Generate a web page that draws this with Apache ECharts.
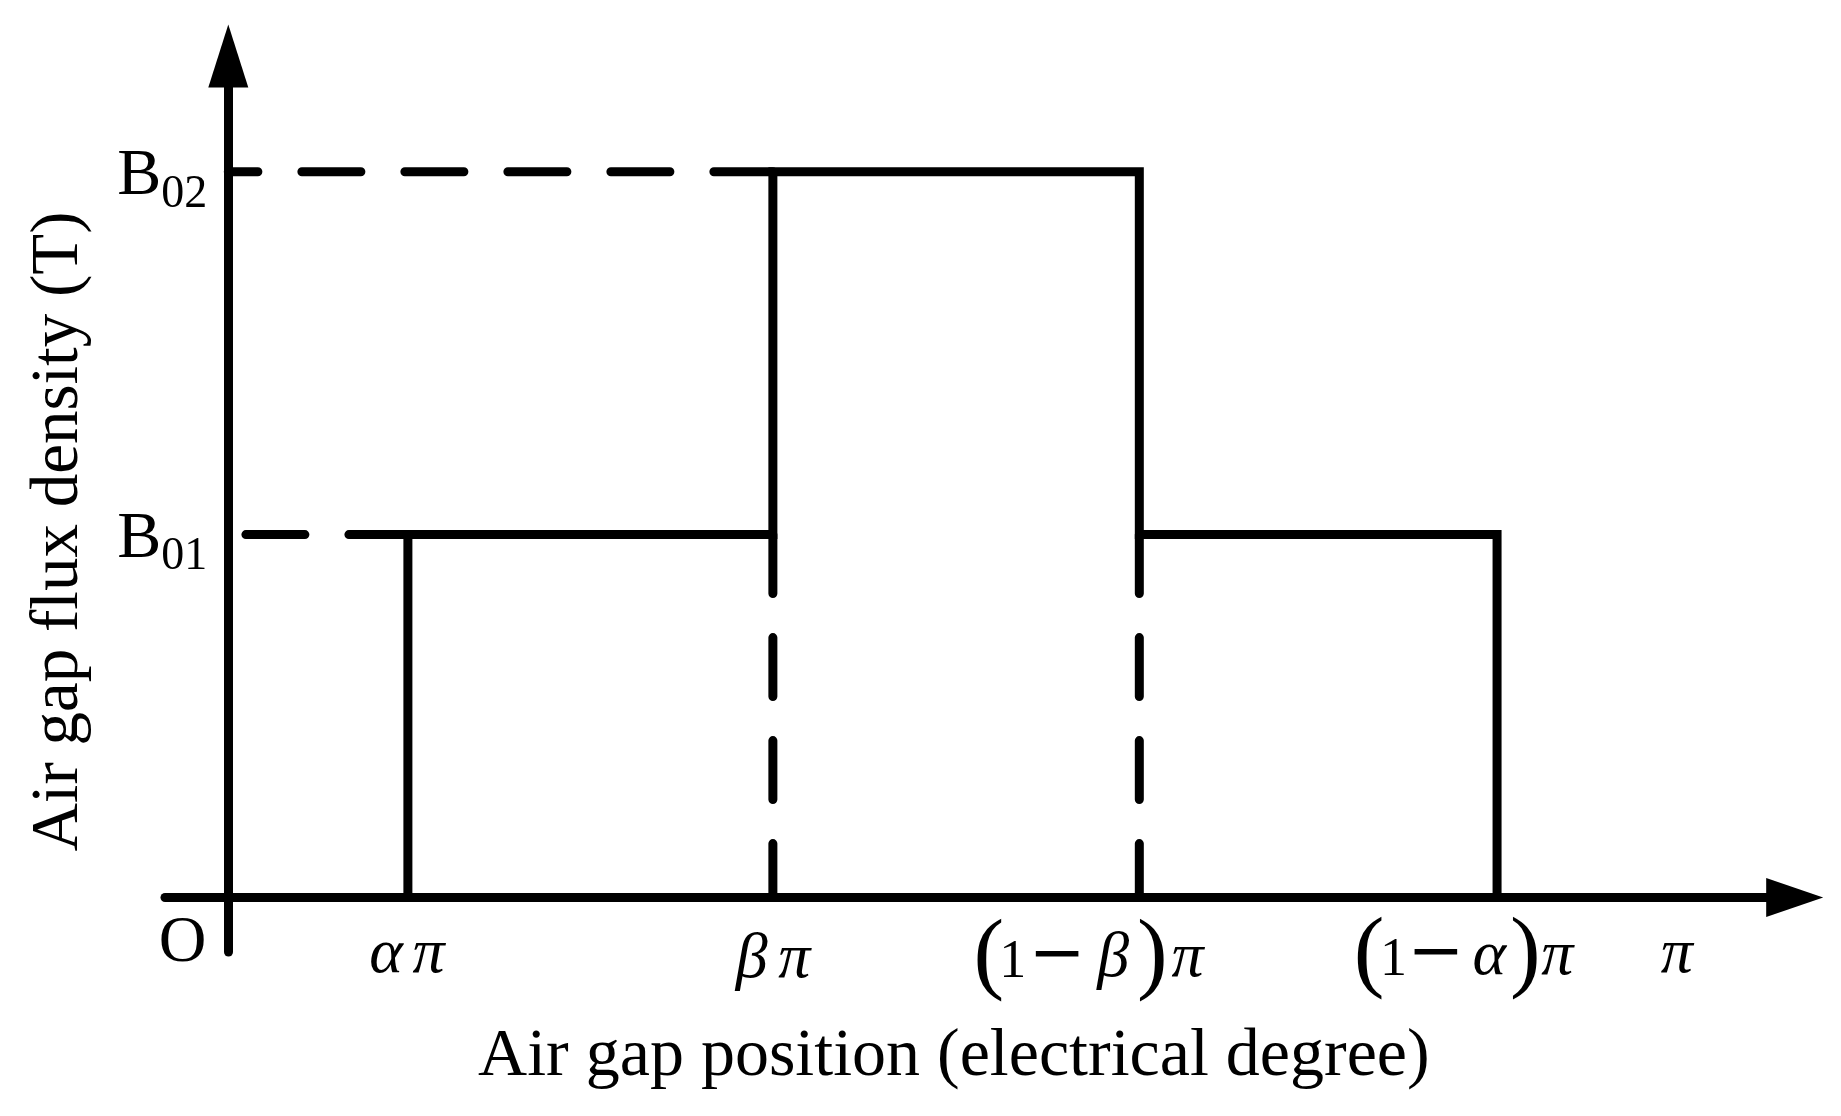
<!DOCTYPE html>
<html><head><meta charset="utf-8">
<script src="https://cdn.jsdelivr.net/npm/echarts@6/dist/echarts.min.js"></script>
<style>html,body{margin:0;padding:0;background:#fff}#c{width:1841px;height:1116px}</style>
</head><body><div id="c"></div>
<script>
// ---------------- data (x in units of π, y in units of B01) ----------------
const xTickValues = [0, 0.124, 0.376, 0.629, 0.876, 1.0];
const xTickLabels = ['O', 'απ', 'βπ', '(1−β)π', '(1−α)π', 'π'];
const yTickValues = [1, 2];
const yTickLabels = ['B01', 'B02'];
const profileX = [0.124, 0.124, 0.376, 0.376, 0.629, 0.629, 0.876, 0.876];
const profileY = [0, 1, 1, 2, 2, 1, 1, 0];
const guideB02X = [0.376, 0];
const guideB02Y = [2, 2];
const guideB01X = [0.124, 0];
const guideB01Y = [1, 1];
const guideBetaX = [0.376, 0.376];
const guideBetaY = [1, 0];
const guideOneMinusBetaX = [0.629, 0.629];
const guideOneMinusBetaY = [1, 0];
const xAxisName = 'Air gap position (electrical degree)';
const yAxisName = 'Air gap flux density (T)';

// ---------------- styling / layout ----------------
const FONT = 'Liberation Serif';
const zip = (xs, ys) => xs.map((x, i) => [x, ys[i]]);
// labels of the axes are laid out from the grid edge; the axis lines sit on zero
const X_SHIFT = 54.8;  // grid bottom minus x-axis line position
const Y_SHIFT = 63.3;  // y-axis line position minus grid left

const glyphClass = ch => ('()'.includes(ch) ? 'paren' : ch === '1' ? 'digit' : ch === '−' ? 'minus' : ch === 'O' ? 'roman' : 'greek');
const classStyle = {
  paren: {font: FONT, fontSize: 92, fontStyle: 'normal', dy: 8, k: 0.3375},
  digit: {font: FONT, fontSize: 54, fontStyle: 'normal', dy: 0, k: 0.3375},
  minus: {font: 'DejaVu Serif', fontSize: 68, fontStyle: 'normal', dy: 0, k: 0.346},
  roman: {font: FONT, fontSize: 66, fontStyle: 'normal', dy: 0, k: 0.3375},
  greek: {font: FONT, fontSize: 64, fontStyle: 'italic', dy: 0, k: 0.3375}
};
const xLabelLayout = [
  {d: 64.7, w: [48], sp: 91.2},
  {d: 75.7, w: [46.7, 38.6], sp: 5.3},
  {d: 80.7, w: [43, 42.2], sp: 0},
  {d: 79.7, w: [24.9, 23, 66, 45.8, 32.5, 38], sp: 95.6},
  {d: 77.7, w: [24.2, 24.7, 60.6, 45.8, 26.2, 38], sp: 60.9},
  {d: 75.7, w: [34], sp: 0}
];

const xRich = {};
xTickLabels.forEach((lab, i) => {
  const L = xLabelLayout[i];
  Array.from(lab).forEach((ch, j) => {
    const c = classStyle[glyphClass(ch)];
    const h = 2 * (L.d + c.dy - c.k * c.fontSize);
    xRich['t' + i + '_' + j] = {
      fontFamily: c.font, fontSize: c.fontSize, fontStyle: c.fontStyle, color: '#000',
      width: L.w[j], verticalAlign: 'top', height: h, lineHeight: h
    };
  });
  if (L.sp > 0) {
    xRich['sp' + i] = {fontFamily: FONT, fontSize: 20, width: L.sp, verticalAlign: 'top', height: 10, lineHeight: 10};
  }
});

const K = 0.3375;
const yRich = {
  B: {fontFamily: FONT, fontSize: 66, color: '#000', verticalAlign: 'top',
      height: 2 * (27.3 - K * 66), lineHeight: 2 * (27.3 - K * 66)},
  s: {fontFamily: FONT, fontSize: 46, color: '#000', verticalAlign: 'top',
      height: 2 * (38.3 - K * 46), lineHeight: 2 * (38.3 - K * 46)}
};

const blackLine = (w, type, cap) => ({color: '#000', width: w, type: type, cap: cap, join: 'miter'});
const DASH = [59, 44];

const chart = echarts.init(document.getElementById('c'), null, {renderer: 'canvas'});
chart.setOption({
  animation: false,
  backgroundColor: '#ffffff',
  grid: {left: 165, top: 56, width: 1629.7, height: 896.1, containLabel: false, outerBoundsMode: 'none'},
  xAxis: {
    type: 'value', min: -0.0437, max: 1.0815,
    splitLine: {show: false}, axisTick: {show: false},
    axisLine: {onZero: true, symbol: ['none', 'triangle'], symbolSize: [39, 57], lineStyle: blackLine(9, 'solid', 'round')},
    axisLabel: {
      customValues: xTickValues, margin: 4 - X_SHIFT, verticalAlign: 'top', hideOverlap: false,
      formatter: function (v) {
        const i = xTickValues.indexOf(v);
        if (i < 0) return '';
        const lab = xTickLabels[i];
        let s = Array.from(lab).map((ch, j) => '{t' + i + '_' + j + '|' + ch + '}').join('');
        if (xLabelLayout[i].sp > 0) s += '{sp' + i + '| }';
        return s;
      },
      rich: xRich
    },
    name: xAxisName, nameLocation: 'middle', nameGap: 120 - X_SHIFT, nameMoveOverlap: false,
    nameTextStyle: {fontFamily: FONT, fontSize: 68, color: '#000', lineHeight: 80, padding: [0, 52, 0, 0]}
  },
  yAxis: {
    type: 'value', min: -0.1508, max: 2.319,
    splitLine: {show: false}, axisTick: {show: false},
    axisLine: {onZero: true, symbol: ['none', 'triangle'], symbolSize: [40, 63], lineStyle: blackLine(9, 'solid', 'round')},
    axisLabel: {
      customValues: yTickValues, margin: 21 - Y_SHIFT, verticalAlign: 'top', hideOverlap: false,
      formatter: function (v) {
        const i = yTickValues.indexOf(v);
        if (i < 0) return '';
        const lab = yTickLabels[i];
        return '{B|' + lab.charAt(0) + '}{s|' + lab.slice(1) + '}';
      },
      rich: yRich
    },
    name: yAxisName, nameLocation: 'middle', nameGap: 129 - Y_SHIFT, nameMoveOverlap: false,
    nameTextStyle: {fontFamily: FONT, fontSize: 67, color: '#000', lineHeight: 80, padding: [0, 55, 0, 0]}
  },
  series: [
    {type: 'line', name: 'profile', data: zip(profileX, profileY), symbol: 'none', showSymbol: false, clip: false,
     lineStyle: blackLine(9, 'solid', 'butt'), z: 3},
    {type: 'line', name: 'guideB02', data: zip(guideB02X, guideB02Y), symbol: 'none', showSymbol: false, clip: false,
     lineStyle: blackLine(9, DASH, 'round'), z: 2},
    {type: 'line', name: 'guideB01', data: zip(guideB01X, guideB01Y), symbol: 'none', showSymbol: false, clip: false,
     lineStyle: blackLine(9, DASH, 'round'), z: 2},
    {type: 'line', name: 'guideBeta', data: zip(guideBetaX, guideBetaY), symbol: 'none', showSymbol: false, clip: false,
     lineStyle: blackLine(9, DASH, 'round'), z: 2},
    {type: 'line', name: 'guideOneMinusBeta', data: zip(guideOneMinusBetaX, guideOneMinusBetaY), symbol: 'none', showSymbol: false, clip: false,
     lineStyle: blackLine(9, DASH, 'round'), z: 2}
  ]
});
</script>
</body></html>
